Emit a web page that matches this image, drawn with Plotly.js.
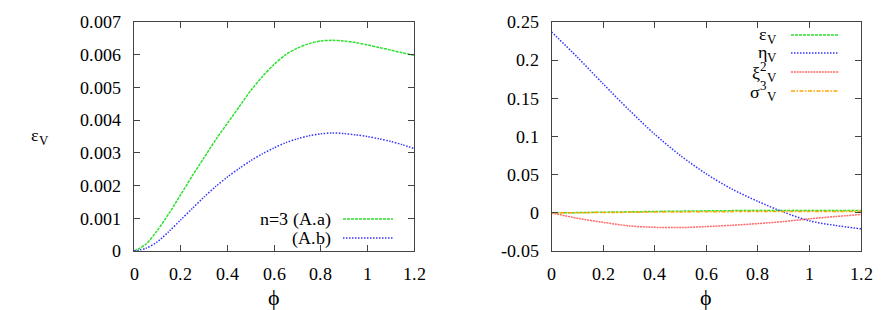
<!DOCTYPE html>
<html>
<head>
<meta charset="utf-8">
<script src="https://cdn.plot.ly/plotly-3.0.1.min.js"></script>
<style>
@font-face { font-family: 'LSerif'; src: local('Liberation Serif'), local('LiberationSerif-Regular'), local('LiberationSerif'); }
html,body{margin:0;padding:0;background:#fff;}
</style>
</head>
<body>
<div id="chart" style="width:888px;height:310px"></div>
<script>
// ---- data ----
const phiFine = [0,0.05,0.1,0.15,0.2,0.25,0.3,0.35,0.4,0.45,0.5,0.55,0.6,0.65,0.7,0.75,0.8,0.85,0.9,0.95,1.0,1.05,1.1,1.15,1.2];
const epsAa = [0,0.0002,0.00063,0.00115,0.00172,0.0023,0.00285,0.0034,0.0039,0.0044,0.0049,0.00533,0.0057,0.006,0.0062,0.00634,0.00642,0.00644,0.00642,0.00637,0.0063,0.00622,0.00614,0.00606,0.00598];
const epsAb = [0,0.00008,0.00028,0.0006,0.00095,0.0013,0.00165,0.00197,0.00226,0.00252,0.00276,0.00297,0.00315,0.00331,0.00343,0.00352,0.00358,0.00361,0.00359,0.00355,0.0035,0.00343,0.00335,0.00325,0.00313];

const phi = [0,0.1,0.2,0.3,0.4,0.5,0.6,0.7,0.8,0.9,1.0,1.1,1.2];
const epsV = [0,0.0003,0.0008,0.0013,0.0018,0.0022,0.0026,0.0029,0.0031,0.0032,0.0032,0.0032,0.0031];
const etaV = [0.237,0.204,0.169,0.135,0.103,0.075,0.051,0.031,0.015,0.001,-0.0105,-0.0165,-0.021];
const xi2V = [0,-0.0071,-0.0124,-0.0171,-0.019,-0.0193,-0.018,-0.0163,-0.0141,-0.0114,-0.0079,-0.0049,-0.0022];
const sigma3V = [0,0.0002,0.0004,0.0007,0.001,0.0012,0.0014,0.0016,0.0017,0.0018,0.0018,0.0018,0.0018];

const leftLabels = ['n=3 (A.a)', '(A.b)'];
const rightLabels = ['ε<sub>V</sub>', 'η<sub>V</sub>', 'ξ<sup>2</sup><sub>V</sub>', 'σ<sup>3</sup><sub>V</sub>'];
const xTitle = 'ϕ';
const yTitleLeft = 'ε<sub>V</sub>';
const xTickVals = [0,0.2,0.4,0.6,0.8,1,1.2];
const xTickText = ['0','0.2','0.4','0.6','0.8','1','1.2'];
const yLeftTickVals = [0,0.001,0.002,0.003,0.004,0.005,0.006,0.007];
const yLeftTickText = ['0','0.001','0.002','0.003','0.004','0.005','0.006','0.007'];
const yRightTickVals = [-0.05,0,0.05,0.1,0.15,0.2,0.25];
const yRightTickText = ['-0.05','0','0.05','0.1','0.15','0.2','0.25'];

// ---- styles ----
const FAMILY = 'LSerif, Liberation Serif, Times New Roman, serif';
const cGreen = '#2ee02e', cBlue = '#3535ff', cRed = '#ff6a6a', cOrange = '#ffa500';
const dGreen = '3px,1px', dBlue = '1.5px,1.5px', dRed = '2px,0.8px', dOrange = '4px,1.5px,1.5px,1.5px';
const LW = 1.5;

function tr(x, y, color, dash, xa, ya) {
  return {x: x, y: y, type: 'scatter', mode: 'lines', xaxis: xa, yaxis: ya,
    line: {color: color, width: LW, dash: dash, shape: 'spline', smoothing: 0.8},
    showlegend: false, hoverinfo: 'skip'};
}

const traces = [
  tr(phiFine, epsAa, cGreen, dGreen, 'x', 'y'),
  tr(phiFine, epsAb, cBlue, dBlue, 'x', 'y'),
  tr(phi, epsV, cGreen, dGreen, 'x2', 'y2'),
  tr(phi, etaV, cBlue, dBlue, 'x2', 'y2'),
  tr(phi, xi2V, cRed, dRed, 'x2', 'y2'),
  tr(phi, sigma3V, cOrange, dOrange, 'x2', 'y2')
];

const W = 888, H = 310, TOPPX = 22, BOTPX = 251;
const toPx = v => v / W;
const toPy = v => (BOTPX - v) / (BOTPX - TOPPX);

function axisBase(extra) {
  return Object.assign({
    showline: true, linecolor: '#444', linewidth: 1, mirror: 'ticks',
    ticks: 'inside', ticklen: 6, tickcolor: '#444', tickwidth: 1,
    showgrid: false, zeroline: false, fixedrange: true
  }, extra);
}

const legShapes = [];
const legNotes = [];
function legendRow(text, color, dash, yPix, textRight, lineX0, lineX1) {
  legShapes.push({type: 'line', xref: 'paper', yref: 'paper', x0: toPx(lineX0), x1: toPx(lineX1), y0: toPy(yPix), y1: toPy(yPix),
    line: {color: color, width: LW, dash: dash}});
  legNotes.push({xref: 'paper', yref: 'paper', x: toPx(textRight), y: toPy(yPix), xanchor: 'right', yanchor: 'middle',
    text: text, showarrow: false});
}
legendRow(leftLabels[0], cGreen, dGreen, 219, 333, 343, 393);
legendRow(leftLabels[1], cBlue, dBlue, 238, 333, 343, 393);
legendRow(rightLabels[0], cGreen, dGreen, 35, 779, 791, 839);
legendRow(rightLabels[1], cBlue, dBlue, 53, 779, 791, 839);
legendRow(rightLabels[2], cRed, dRed, 72, 779, 791, 839);
legendRow(rightLabels[3], cOrange, dOrange, 91, 779, 791, 839);

legNotes.push({xref: 'paper', yref: 'paper', x: toPx(40), y: toPy(136), xanchor: 'center', yanchor: 'middle',
  text: yTitleLeft, showarrow: false});

const lay = {
  width: W, height: H, margin: {l: 0, r: 0, t: TOPPX, b: H - BOTPX},
  font: {family: FAMILY, size: 18, color: '#000'},
  paper_bgcolor: '#fff', plot_bgcolor: '#fff', showlegend: false,
  xaxis: axisBase({domain: [134/W, 414/W], range: [0, 1.2], tickvals: xTickVals, ticktext: xTickText, anchor: 'y', ticklabelstandoff: 6,
    title: {text: xTitle, standoff: 10}}),
  yaxis: axisBase({domain: [0, 1], range: [0, 0.007], tickvals: yLeftTickVals, ticktext: yLeftTickText, anchor: 'x', ticklabelstandoff: 8}),
  xaxis2: axisBase({domain: [551.5/W, 861/W], range: [0, 1.2], tickvals: xTickVals, ticktext: xTickText, anchor: 'y2', ticklabelstandoff: 6,
    title: {text: xTitle, standoff: 10}}),
  yaxis2: axisBase({domain: [0, 1], range: [-0.05, 0.25], tickvals: yRightTickVals, ticktext: yRightTickText, anchor: 'x2', ticklabelstandoff: 8}),
  shapes: legShapes, annotations: legNotes
};

function draw() { return Plotly.newPlot('chart', traces, lay, {staticPlot: true}); }
draw();
if (document.fonts && document.fonts.load) {
  document.fonts.load('18px LSerif').then(function () { draw(); }).catch(function () {});
}
</script>
</body>
</html>
